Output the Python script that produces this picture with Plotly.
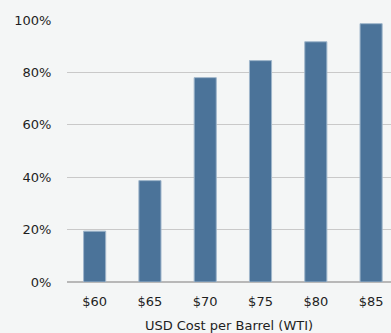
import plotly.graph_objects as go

categories = ["$60", "$65", "$70", "$75", "$80", "$85"]
values = [19.4, 38.7, 78.0, 84.5, 91.7, 98.6]
y_ticks = [0, 20, 40, 60, 80, 100]
y_tick_labels = ["0%", "20%", "40%", "60%", "80%", "100%"]

BG = "#f4f6f6"
BAR = "#4b7399"
FONT = "DejaVu Sans, Verdana, sans-serif"

fig = go.Figure(
    go.Bar(
        x=list(range(len(categories))),
        y=values,
        width=0.4,
        marker=dict(color=BAR, line=dict(color="#9fb6cb", width=1)),
        hoverinfo="skip",
    )
)

fig.update_layout(
    width=391,
    height=333,
    margin=dict(l=67, r=0, t=20, b=51),
    paper_bgcolor=BG,
    plot_bgcolor=BG,
    font=dict(family=FONT, size=13, color="#1e1e1e"),
    showlegend=False,
    bargap=0.6,
)

fig.update_xaxes(
    tickmode="array",
    tickvals=list(range(len(categories))),
    ticktext=categories,
    range=[-0.5, 5.36],
    showgrid=False,
    zeroline=False,
    showline=False,
    ticks="outside",
    ticklen=7,
    tickcolor="rgba(0,0,0,0)",
    tickfont=dict(size=13),
    title=dict(text="USD Cost per Barrel (WTI)", font=dict(size=13), standoff=14),
)

fig.update_yaxes(
    range=[0, 100],
    tickmode="array",
    tickvals=y_ticks,
    ticktext=y_tick_labels,
    showgrid=True,
    gridcolor="#c9c9c9",
    gridwidth=1,
    zeroline=True,
    zerolinecolor="#b8b8b8",
    zerolinewidth=2,
    ticks="outside",
    ticklen=12,
    tickcolor="rgba(0,0,0,0)",
    tickfont=dict(size=13),
)

fig.write_html("out.html")
